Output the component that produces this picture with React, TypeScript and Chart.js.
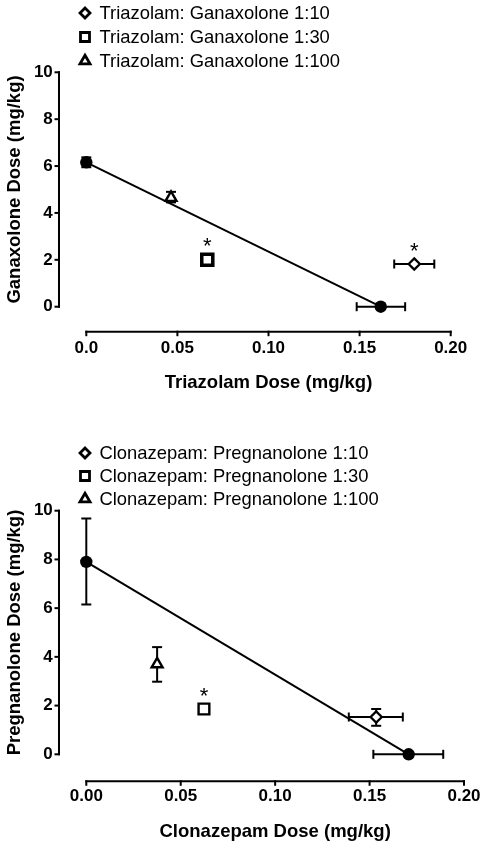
import React, { useEffect, useRef } from "react";
import { Chart, registerables } from "chart.js";

Chart.register(...registerables);

type Pt = { x: number; y: number; xLow?: number; xHigh?: number; yLow?: number; yHigh?: number };

const FONT = '"Liberation Sans", Arial, Helvetica, sans-serif';

// ---------- shared axis ticks ----------
const yTickValues = [0, 2, 4, 6, 8, 10];
const yTickLabels = ["0", "2", "4", "6", "8", "10"];
const xTickValues = [0, 0.05, 0.1, 0.15, 0.2];
const topXTickLabels = ["0.0", "0.05", "0.10", "0.15", "0.20"];
const bottomXTickLabels = ["0.00", "0.05", "0.10", "0.15", "0.20"];

// ---------- top panel: triazolam + ganaxolone ----------
const topLegendLabels = [
  "Triazolam: Ganaxolone 1:10",
  "Triazolam: Ganaxolone 1:30",
  "Triazolam: Ganaxolone 1:100",
];
const topAdditivityLine: Pt[] = [
  { x: 0, y: 6.16 },
  { x: 0.1616, y: 0 },
];
const topSingleDrugs: Pt[] = [
  { x: 0, y: 6.16, yLow: 5.95, yHigh: 6.37 },
  { x: 0.1616, y: 0, xLow: 0.1484, xHigh: 0.175 },
];
const topRatio10: Pt[] = [{ x: 0.18, y: 1.82, xLow: 0.169, xHigh: 0.191 }];
const topRatio30: Pt[] = [{ x: 0.0664, y: 2.0, yLow: 1.92, yHigh: 2.08 }];
const topRatio100: Pt[] = [{ x: 0.0465, y: 4.65, yLow: 4.45, yHigh: 4.9 }];
const topSignificant: Pt[] = [
  { x: 0.0664, y: 2.0 },
  { x: 0.18, y: 1.82 },
];

// ---------- bottom panel: clonazepam + pregnanolone ----------
const bottomLegendLabels = [
  "Clonazepam: Pregnanolone 1:10",
  "Clonazepam: Pregnanolone 1:30",
  "Clonazepam: Pregnanolone 1:100",
];
const bottomAdditivityLine: Pt[] = [
  { x: 0, y: 7.9 },
  { x: 0.1707, y: 0 },
];
const bottomSingleDrugs: Pt[] = [
  { x: 0, y: 7.9, yLow: 6.15, yHigh: 9.68 },
  { x: 0.1707, y: 0, xLow: 0.152, xHigh: 0.189 },
];
const bottomRatio10: Pt[] = [{ x: 0.1535, y: 1.53, xLow: 0.139, xHigh: 0.1676, yLow: 1.17, yHigh: 1.86 }];
const bottomRatio30: Pt[] = [{ x: 0.0623, y: 1.86 }];
const bottomRatio100: Pt[] = [{ x: 0.0375, y: 3.7, yLow: 2.98, yHigh: 4.4 }];
const bottomSignificant: Pt[] = [{ x: 0.0623, y: 1.86 }];

type PanelCfg = {
  width: number;
  height: number;
  padTop: number;
  padRight: number;
  yScaleWidth: number;
  xScaleHeight: number;
  xTickPad: number;
  xTitlePad: number;
  yAxisGap: number;
  xAxisGap: number;
  xTickLabels: string[];
  xTitle: string;
  yTitle: string;
  legendLabels: string[];
  legendTop: number;
  legendStep: number;
  line: Pt[];
  single: Pt[];
  r10: Pt[];
  r30: Pt[];
  r100: Pt[];
  stars: Pt[];
  squareRadius: number;
  squareBorder: number;
};

const topCfg: PanelCfg = {
  width: 487,
  height: 420,
  padTop: 72.3,
  padRight: 36.3,
  yScaleWidth: 86.3,
  xScaleHeight: 113.3,
  xTickPad: 31.4,
  xTitlePad: 25.9,
  yAxisGap: 27.3,
  xAxisGap: 25,
  xTickLabels: topXTickLabels,
  xTitle: "Triazolam Dose (mg/kg)",
  yTitle: "Ganaxolone Dose (mg/kg)",
  legendLabels: topLegendLabels,
  legendTop: 13,
  legendStep: 24,
  line: topAdditivityLine,
  single: topSingleDrugs,
  r10: topRatio10,
  r30: topRatio30,
  r100: topRatio100,
  stars: topSignificant,
  squareRadius: 7.8,
  squareBorder: 3.5,
};

const bottomCfg: PanelCfg = {
  width: 487,
  height: 429,
  padTop: 90.7,
  padRight: 23,
  yScaleWidth: 86.3,
  xScaleHeight: 94.7,
  xTickPad: 32,
  xTitlePad: 6.2,
  yAxisGap: 27.3,
  xAxisGap: 27,
  xTickLabels: bottomXTickLabels,
  xTitle: "Clonazepam Dose (mg/kg)",
  yTitle: "Pregnanolone Dose (mg/kg)",
  legendLabels: bottomLegendLabels,
  legendTop: 33,
  legendStep: 23,
  line: bottomAdditivityLine,
  single: bottomSingleDrugs,
  r10: bottomRatio10,
  r30: bottomRatio30,
  r100: bottomRatio100,
  stars: bottomSignificant,
  squareRadius: 7.6,
  squareBorder: 2.4,
};

function drawLegendMarker(ctx: CanvasRenderingContext2D, kind: number, x: number, y: number) {
  ctx.save();
  ctx.strokeStyle = "#000";
  ctx.fillStyle = "#fff";
  ctx.lineWidth = 2.8;
  ctx.beginPath();
  if (kind === 0) {
    const r = 5;
    ctx.moveTo(x - r, y);
    ctx.lineTo(x, y - r);
    ctx.lineTo(x + r, y);
    ctx.lineTo(x, y + r);
    ctx.closePath();
  } else if (kind === 1) {
    const h = 4.5;
    ctx.rect(x - h, y - h, 2 * h, 2 * h);
  } else {
    const r = 5.8;
    ctx.moveTo(x, y - r);
    ctx.lineTo(x + r * 0.866, y + r / 2);
    ctx.lineTo(x - r * 0.866, y + r / 2);
    ctx.closePath();
  }
  ctx.fill();
  ctx.stroke();
  ctx.restore();
}

function makeDecor(cfg: PanelCfg) {
  return {
    id: "prismDecor",
    beforeDatasetsDraw(chart: any) {
      const ctx: CanvasRenderingContext2D = chart.ctx;
      const xs = chart.scales.x;
      const ys = chart.scales.y;
      const ca = chart.chartArea;
      ctx.save();
      ctx.strokeStyle = "#000";
      ctx.lineWidth = 2;
      ctx.lineCap = "butt";
      const seg = (x1: number, y1: number, x2: number, y2: number) => {
        ctx.beginPath();
        ctx.moveTo(x1, y1);
        ctx.lineTo(x2, y2);
        ctx.stroke();
      };
      // offset axes (Prism style)
      const yAxisX = ca.left - cfg.yAxisGap;
      const yTopPx = ys.getPixelForValue(yTickValues[yTickValues.length - 1]);
      const yBotPx = ys.getPixelForValue(yTickValues[0]);
      seg(yAxisX, yTopPx - 1, yAxisX, yBotPx + 1);
      yTickValues.forEach((v) => {
        const p = ys.getPixelForValue(v);
        seg(yAxisX - 4.5, p, yAxisX + 1, p);
      });
      const xAxisY = ca.bottom + cfg.xAxisGap;
      const xL = xs.getPixelForValue(xTickValues[0]);
      const xR = xs.getPixelForValue(xTickValues[xTickValues.length - 1]);
      seg(xL - 1, xAxisY, xR + 1, xAxisY);
      xTickValues.forEach((v) => {
        const p = xs.getPixelForValue(v);
        seg(p, xAxisY - 1, p, xAxisY + 4.5);
      });
      // error bars
      const vCap = 5;
      const hCap = 4.5;
      chart.data.datasets.forEach((ds: any) => {
        if (ds.noErrors) return;
        (ds.data as Pt[]).forEach((p) => {
          const px = xs.getPixelForValue(p.x);
          const py = ys.getPixelForValue(p.y);
          if (p.yLow != null && p.yHigh != null) {
            const y1 = ys.getPixelForValue(p.yLow);
            const y2 = ys.getPixelForValue(p.yHigh);
            seg(px, y1, px, y2);
            seg(px - vCap, y1, px + vCap, y1);
            seg(px - vCap, y2, px + vCap, y2);
          }
          if (p.xLow != null && p.xHigh != null) {
            const x1 = xs.getPixelForValue(p.xLow);
            const x2 = xs.getPixelForValue(p.xHigh);
            seg(x1, py, x2, py);
            seg(x1, py - hCap, x1, py + hCap);
            seg(x2, py - hCap, x2, py + hCap);
          }
        });
      });
      ctx.restore();
    },
    afterDraw(chart: any) {
      const ctx: CanvasRenderingContext2D = chart.ctx;
      const xs = chart.scales.x;
      const ys = chart.scales.y;
      ctx.save();
      // significance asterisks
      ctx.fillStyle = "#000";
      ctx.font = `22px ${FONT}`;
      ctx.textAlign = "center";
      ctx.textBaseline = "middle";
      cfg.stars.forEach((p) => {
        ctx.fillText("*", xs.getPixelForValue(p.x), ys.getPixelForValue(p.y) - 12.5);
      });
      // legend
      ctx.font = `18.4px ${FONT}`;
      ctx.textAlign = "left";
      ctx.textBaseline = "middle";
      cfg.legendLabels.forEach((label, i) => {
        const y = cfg.legendTop + i * cfg.legendStep;
        drawLegendMarker(ctx, i, 85, y);
        ctx.fillStyle = "#000";
        ctx.fillText(label, 99.5, y + 0.5);
      });
      ctx.restore();
    },
  };
}

function Panel({ cfg }: { cfg: PanelCfg }) {
  const ref = useRef<HTMLCanvasElement>(null);
  useEffect(() => {
    const canvas = ref.current;
    if (!canvas) return;
    const openMarker = {
      showLine: false,
      pointBackgroundColor: "#fff",
      pointBorderColor: "#000",
      clip: false as any,
      order: 0,
    };
    const chart = new Chart(canvas, {
      type: "scatter",
      data: {
        datasets: [
          {
            label: "additivity",
            data: cfg.line,
            showLine: true,
            borderColor: "#000",
            borderWidth: 2,
            pointRadius: 0,
            clip: false as any,
            order: 10,
            noErrors: true,
          } as any,
          {
            label: "single drugs",
            data: cfg.single,
            showLine: false,
            pointStyle: "circle",
            pointRadius: 6.2,
            pointBorderWidth: 0,
            pointBackgroundColor: "#000",
            pointBorderColor: "#000",
            clip: false as any,
            order: 1,
          } as any,
          { label: cfg.legendLabels[0], data: cfg.r10, pointStyle: "rectRot", pointRadius: 5.6, pointBorderWidth: 2.3, ...openMarker } as any,
          { label: cfg.legendLabels[1], data: cfg.r30, pointStyle: "rect", pointRadius: cfg.squareRadius, pointBorderWidth: cfg.squareBorder, ...openMarker } as any,
          { label: cfg.legendLabels[2], data: cfg.r100, pointStyle: "triangle", pointRadius: 6.3, pointBorderWidth: 2.4, ...openMarker } as any,
        ],
      },
      options: {
        responsive: false,
        animation: false,
        devicePixelRatio: 1,
        events: [],
        layout: { padding: { top: cfg.padTop, right: cfg.padRight, left: 0, bottom: 0 } },
        plugins: { legend: { display: false }, tooltip: { enabled: false } },
        scales: {
          x: {
            type: "linear",
            min: xTickValues[0],
            max: xTickValues[xTickValues.length - 1],
            afterBuildTicks: (s: any) => {
              s.ticks = xTickValues.map((v) => ({ value: v }));
            },
            afterFit: (s: any) => {
              s.height = cfg.xScaleHeight;
              s.paddingLeft = 0;
              s.paddingRight = 0;
              s.paddingTop = 0;
              s.paddingBottom = 0;
            },
            grid: { display: false, drawTicks: false, tickLength: 0 },
            border: { display: false },
            ticks: {
              callback: (_v: any, i: number) => cfg.xTickLabels[i],
              color: "#000",
              font: { family: FONT, size: 17, weight: "bold" },
              padding: cfg.xTickPad,
              maxRotation: 0,
              minRotation: 0,
              autoSkip: false,
            },
            title: {
              display: true,
              text: cfg.xTitle,
              color: "#000",
              font: { family: FONT, size: 18.5, weight: "bold" },
              padding: { top: 0, bottom: cfg.xTitlePad },
            },
          },
          y: {
            type: "linear",
            min: yTickValues[0],
            max: yTickValues[yTickValues.length - 1],
            afterBuildTicks: (s: any) => {
              s.ticks = yTickValues.map((v) => ({ value: v }));
            },
            afterFit: (s: any) => {
              s.width = cfg.yScaleWidth;
              s.paddingLeft = 0;
              s.paddingRight = 0;
              s.paddingTop = 0;
              s.paddingBottom = 0;
            },
            grid: { display: false, drawTicks: false, tickLength: 0 },
            border: { display: false },
            ticks: {
              callback: (_v: any, i: number) => yTickLabels[i],
              color: "#000",
              font: { family: FONT, size: 17, weight: "bold" },
              padding: 33.5,
              autoSkip: false,
            },
            title: {
              display: true,
              text: cfg.yTitle,
              color: "#000",
              font: { family: FONT, size: 18.5, weight: "bold" },
              padding: { top: 4, bottom: 0 },
            },
          },
        },
      } as any,
      plugins: [makeDecor(cfg) as any],
    });
    return () => chart.destroy();
  }, [cfg]);
  return (
    <canvas
      ref={ref}
      width={cfg.width}
      height={cfg.height}
      style={{ display: "block", width: cfg.width, height: cfg.height }}
    />
  );
}

export default function App() {
  return (
    <div style={{ position: "absolute", left: 0, top: 0, width: 487, height: 849, background: "#fff" }}>
      <Panel cfg={topCfg} />
      <Panel cfg={bottomCfg} />
    </div>
  );
}
